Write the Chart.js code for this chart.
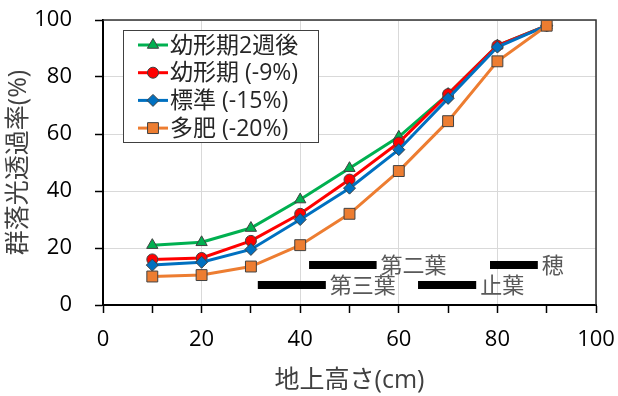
<!DOCTYPE html>
<html lang="ja">
<head>
<meta charset="UTF-8">
<title>群落光透過率</title>
<script src="https://cdn.jsdelivr.net/npm/chart.js"></script>
<style>
  body { margin: 0; background: #fff; }
  #wrap { width: 618px; height: 396px; }
</style>
</head>
<body>
<div id="wrap"><canvas id="lightChart"></canvas></div>
<script>
// data
const heights = [10, 20, 30, 40, 50, 60, 70, 80, 90];
const seriesNames = ['幼形期2週後', '幼形期 (-9%)', '標準 (-15%)', '多肥 (-20%)'];
const youkei2w = [21, 22, 27, 37, 48, 59, 74, 91, 98];
const youkei = [16, 16.5, 22.5, 32, 44, 57, 74, 91, 98];
const standard = [14, 15, 19.5, 30, 41, 54.5, 72.5, 90.5, 98];
const tahi = [10, 10.5, 13.5, 21, 32, 47, 64.5, 85.5, 98];

// leaf stage bars
const stageNames = ['第三葉', '第二葉', '止葉', '穂'];
const stageFrom = [31.4, 41.8, 63.9, 78.5];
const stageTo = [45.2, 55.5, 75.7, 88.2];
const stageLevel = [7, 14, 7, 14];

const xRange = [0, 100];
const yRange = [0, 100];

// styles
const colors = ['#00B050', '#FF0000', '#0070C0', '#ED7D31'];
const markers = ['triangle', 'circle', 'rectRot', 'rect'];
const markerSize = [6.5, 5.5, 6, 7.7];
const FONT = "'Open Sans', 'Noto Sans CJK JP', sans-serif";

Chart.defaults.font.family = FONT;

const allSeries = [youkei2w, youkei, standard, tahi];
const datasets = allSeries.map((vals, i) => ({
  label: seriesNames[i],
  data: heights.map((h, j) => ({ x: h, y: vals[j] })),
  borderColor: colors[i],
  backgroundColor: colors[i],
  borderWidth: 3,
  pointStyle: markers[i],
  pointRadius: markerSize[i],
  pointBorderColor: '#404040',
  pointBorderWidth: 1,
  order: 4 - i
}));
stageNames.forEach((name, i) => {
  datasets.push({
    label: name,
    data: [{ x: stageFrom[i], y: stageLevel[i] }, { x: stageTo[i], y: stageLevel[i] }],
    borderColor: '#000',
    borderWidth: 8,
    borderCapStyle: 'butt',
    pointRadius: 0,
    order: 10
  });
});

// top / right frame of the plot
const frame = {
  id: 'frame',
  beforeDatasetsDraw(chart) {
    const { ctx, chartArea: a } = chart;
    ctx.save();
    ctx.strokeStyle = '#333';
    ctx.lineWidth = 1.5;
    ctx.beginPath();
    ctx.moveTo(a.left, a.top);
    ctx.lineTo(a.right, a.top);
    ctx.lineTo(a.right, a.bottom);
    ctx.stroke();
    ctx.restore();
  }
};

// text next to the stage bars
const stageLabels = {
  id: 'stageLabels',
  afterDatasetsDraw(chart) {
    const { ctx, scales } = chart;
    ctx.save();
    ctx.fillStyle = '#595959';
    ctx.font = '22px ' + FONT;
    ctx.textBaseline = 'middle';
    stageNames.forEach((name, i) => {
      const px = scales.x.getPixelForValue(stageTo[i]) + 4;
      const py = scales.y.getPixelForValue(stageLevel[i]) + 2;
      ctx.fillText(name, px, py);
    });
    ctx.restore();
  }
};

// legend box inside the plot
const legendBox = {
  id: 'legendBox',
  afterDatasetsDraw(chart) {
    const { ctx, chartArea } = chart;
    const x0 = chartArea.left + 20, y0 = chartArea.top + 10;
    const w = 195, h = 112, row = 27.7;
    ctx.save();
    ctx.fillStyle = '#fff';
    ctx.fillRect(x0, y0, w, h);
    ctx.strokeStyle = '#404040';
    ctx.lineWidth = 1;
    ctx.strokeRect(x0 + 0.5, y0 + 0.5, w, h);
    seriesNames.forEach((name, i) => {
      const cy = y0 + 15 + i * row;
      ctx.strokeStyle = colors[i];
      ctx.lineWidth = 3;
      ctx.beginPath();
      ctx.moveTo(x0 + 15, cy);
      ctx.lineTo(x0 + 45, cy);
      ctx.stroke();
      ctx.fillStyle = colors[i];
      ctx.strokeStyle = '#404040';
      ctx.lineWidth = 1;
      Chart.helpers.drawPoint(ctx, { pointStyle: markers[i], radius: markerSize[i], rotation: 0, borderWidth: 1 }, x0 + 30, cy);
      ctx.fillStyle = '#262626';
      ctx.font = '23px ' + FONT;
      ctx.textBaseline = 'middle';
      ctx.fillText(name, x0 + 47, cy + 1);
    });
    ctx.restore();
  }
};

new Chart(document.getElementById('lightChart'), {
  type: 'line',
  data: { datasets },
  options: {
    responsive: true,
    maintainAspectRatio: false,
    animation: false,
    devicePixelRatio: 1,
    layout: { padding: { top: 20, right: 22, left: 0, bottom: 0 } },
    plugins: { legend: { display: false }, tooltip: { enabled: false } },
    scales: {
      x: {
        type: 'linear',
        min: xRange[0],
        max: xRange[1],
        afterFit: s => { s.height = 91; s.paddingLeft = 0; s.paddingRight = 0; },
        ticks: {
          stepSize: 10,
          autoSkip: false,
          maxRotation: 0,
          color: '#000',
          font: { size: 22 },
          padding: 14,
          callback: v => (v % 20 === 0 ? v : '')
        },
        grid: {
          color: c => (c.tick && c.tick.value % 20 === 0 ? '#d9d9d9' : 'rgba(0,0,0,0)'),
          tickColor: '#000',
          tickLength: 8,
          tickWidth: 1.5
        },
        border: { color: '#000', width: 2 },
        title: {
          display: true,
          text: '地上高さ(cm)',
          color: '#404040',
          font: { size: 25 },
          padding: { top: 0, bottom: 0 }
        }
      },
      y: {
        min: yRange[0],
        max: yRange[1],
        afterFit: s => { s.width = 103; s.paddingTop = 0; s.paddingBottom = 0; },
        ticks: {
          stepSize: 20,
          color: '#000',
          font: { size: 22 },
          padding: 23
        },
        grid: {
          color: '#d9d9d9',
          tickColor: '#000',
          tickLength: 8,
          tickWidth: 1.5
        },
        border: { color: '#000', width: 2 },
        title: {
          display: true,
          text: '群落光透過率(%)',
          color: '#404040',
          font: { size: 25 },
          padding: { top: 4, bottom: 0 }
        }
      }
    }
  },
  plugins: [frame, stageLabels, legendBox]
});
</script>
</body>
</html>
